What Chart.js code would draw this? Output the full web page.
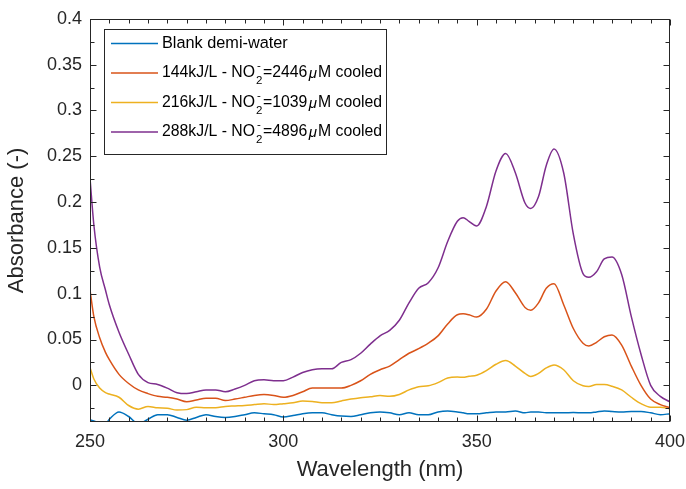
<!DOCTYPE html>
<html>
<head>
<meta charset="utf-8">
<script src="https://cdn.jsdelivr.net/npm/chart.js@4/dist/chart.umd.min.js"></script>
<style>
  body { margin: 0; background: #fff; }
  #wrap { width: 686px; height: 489px; }
</style>
</head>
<body>
<div id="wrap"><canvas id="absChart" width="686" height="489"></canvas></div>
<script>
// wavelength grid (nm) shared by all spectra
const wavelength = [250, 251, 252.5, 254, 255, 257.5, 260, 262.5, 265, 267.5, 270, 272.5, 275, 277.5, 280,
  282.5, 285, 287.5, 290, 292.5, 295, 297.5, 300, 302.5, 305, 307.5, 310, 312.5, 315, 317.5, 320,
  322.5, 325, 327.5, 330, 332.5, 335, 337.5, 340, 342.5, 345, 346.5, 348, 350, 352.5, 355, 357.5,
  360, 362.5, 364, 366, 368, 370, 372.5, 375, 377.5, 379, 381, 383, 385, 387.5, 390, 392.5, 395, 397.5, 400];

const blank = [-0.0375, -0.039, -0.041, -0.042, -0.037, -0.029, -0.034, -0.042, -0.037, -0.032, -0.032, -0.035, -0.038, -0.035, -0.032,
  -0.034, -0.035, -0.034, -0.032, -0.030, -0.031, -0.032, -0.0345, -0.033, -0.031, -0.030, -0.030, -0.032, -0.0335, -0.034, -0.032,
  -0.030, -0.029, -0.030, -0.032, -0.030, -0.032, -0.032, -0.029, -0.028, -0.029, -0.030, -0.031, -0.031, -0.030, -0.029, -0.029,
  -0.028, -0.030, -0.029, -0.029, -0.030, -0.030, -0.030, -0.0296, -0.030, -0.030, -0.029, -0.028, -0.0285, -0.029, -0.0285, -0.0285, -0.030, -0.032, -0.031];

const kj144 = [0.104, 0.075, 0.052, 0.036, 0.028, 0.012, 0.002, -0.005, -0.009, -0.012, -0.013, -0.015, -0.018, -0.016, -0.014,
  -0.014, -0.0166, -0.015, -0.013, -0.011, -0.010, -0.011, -0.013, -0.011, -0.007, -0.003, -0.003, -0.003, -0.003, 0.000, 0.005,
  0.012, 0.017, 0.021, 0.028, 0.035, 0.040, 0.046, 0.054, 0.067, 0.077, 0.078, 0.077, 0.0745, 0.083, 0.103, 0.113,
  0.101, 0.085, 0.082, 0.090, 0.106, 0.111, 0.088, 0.062, 0.046, 0.043, 0.047, 0.053, 0.055, 0.044, 0.021, 0.000, -0.015, -0.021, -0.0245];

const kj216 = [0.0195, 0.007, -0.003, -0.008, -0.0095, -0.013, -0.022, -0.026, -0.023, -0.0245, -0.025, -0.027, -0.0265, -0.024, -0.0245,
  -0.0245, -0.023, -0.0225, -0.022, -0.021, -0.020, -0.021, -0.020, -0.019, -0.017, -0.0175, -0.019, -0.019, -0.017, -0.015, -0.0135,
  -0.0125, -0.011, -0.012, -0.010, -0.005, -0.0015, -0.0005, 0.003, 0.008, 0.009, 0.0088, 0.010, 0.011, 0.016, 0.023, 0.027,
  0.021, 0.013, 0.0097, 0.013, 0.019, 0.0222, 0.017, 0.005, -0.0005, -0.0012, 0.0008, 0.0008, -0.001, -0.005, -0.013, -0.020, -0.0238, -0.0238, -0.0256];

const kj288 = [0.226, 0.175, 0.129, 0.104, 0.088, 0.058, 0.034, 0.012, 0.003, 0.001, -0.003, -0.008, -0.009, -0.007, -0.005,
  -0.005, -0.007, -0.004, 0.000, 0.005, 0.006, 0.005, 0.005, 0.009, 0.014, 0.017, 0.018, 0.018, 0.025, 0.028, 0.035,
  0.045, 0.054, 0.060, 0.071, 0.090, 0.106, 0.112, 0.128, 0.157, 0.179, 0.183, 0.179, 0.174, 0.195, 0.234, 0.253,
  0.232, 0.199, 0.193, 0.206, 0.240, 0.258, 0.232, 0.165, 0.122, 0.118, 0.124, 0.138, 0.140, 0.121, 0.075, 0.034, 0.000, -0.012, -0.018];

const energies = ['144kJ/L', '216kJ/L', '288kJ/L'];
const nitrite = [2446, 1039, 4896];
const blankName = 'Blank demi-water';
const colors = ['#0072BD', '#D95319', '#EDB120', '#7E2F8E'];

const xTicks = [250, 300, 350, 400];
const yTicks = [0, 0.05, 0.1, 0.15, 0.2, 0.25, 0.3, 0.35, 0.4];

const FONT = "'Liberation Sans', Arial, sans-serif";
const INK = '#262626';

function pts(arr) {
  return wavelength.map((w, i) => ({ x: w, y: arr[i] }));
}

const seriesData = [blank, kj144, kj216, kj288];
const seriesLabels = [blankName].concat(energies.map((e, i) => `${e} - NO\u2082\u207B=${nitrite[i]}\u00B5M cooled`));

// MATLAB style box with inward ticks + legend with sub/superscripts
const matlabAxes = {
  id: 'matlabAxes',
  afterDraw(chart) {
    const { ctx, chartArea: a, scales: { x, y } } = chart;
    ctx.save();
    ctx.strokeStyle = INK;
    ctx.lineWidth = 1;
    const L = Math.round(a.left) + 0.5, R = Math.round(a.right) - 0.5;
    const T = Math.round(a.top) + 0.5, B = Math.round(a.bottom) - 0.5;
    ctx.beginPath();
    for (let k = 0; k <= 30; k++) {
      const v = 250 + k * 5;
      const px = Math.round(x.getPixelForValue(v)) + 0.5;
      const len = k % 10 === 0 ? 6 : 4;
      ctx.moveTo(px, B); ctx.lineTo(px, B - len);
      ctx.moveTo(px, T); ctx.lineTo(px, T + len);
    }
    for (let k = -1; k <= 16; k++) {
      const v = k * 0.025;
      const py = Math.round(y.getPixelForValue(v)) + 0.5;
      const len = k % 2 === 0 ? 6 : 4;
      ctx.moveTo(L, py); ctx.lineTo(L + len, py);
      ctx.moveTo(R, py); ctx.lineTo(R - len, py);
    }
    ctx.stroke();
    ctx.strokeRect(L, T, R - L, B - T);

    // legend
    const bx = 104.5, by = 29.5, bw = 282, bh = 125;
    ctx.fillStyle = '#fff';
    ctx.fillRect(bx, by, bw, bh);
    ctx.strokeRect(bx, by, bw, bh);
    ctx.textBaseline = 'middle';
    ctx.textAlign = 'left';
    const big = `15.8px ${FONT}`, small = `11.5px ${FONT}`;
    for (let i = 0; i < 4; i++) {
      const ry = 43.5 + i * 29.5;
      ctx.strokeStyle = colors[i];
      ctx.lineWidth = 1.5;
      ctx.beginPath(); ctx.moveTo(111, ry); ctx.lineTo(158, ry); ctx.stroke();
      ctx.fillStyle = '#000';
      ctx.font = i === 0 ? `16.3px ${FONT}` : big;
      let tx = 162;
      if (i === 0) { ctx.fillText(blankName, tx, ry); continue; }
      const p1 = `${energies[i - 1]} - NO`;
      ctx.fillText(p1, tx, ry);
      tx += ctx.measureText(p1).width + 1;
      ctx.font = small;
      ctx.fillText('-', tx + 1, ry - 7);
      ctx.fillText('2', tx, ry + 8);
      tx += ctx.measureText('2').width + 0.5;
      ctx.font = big;
      const p2 = `=${nitrite[i - 1]}`;
      ctx.fillText(p2, tx, ry);
      tx += ctx.measureText(p2).width + 1.5;
      ctx.font = `italic 15px ${FONT}`;
      ctx.fillText('\u03BC', tx, ry + 1);
      tx += ctx.measureText('\u03BC').width + 1;
      ctx.font = big;
      ctx.fillText('M cooled', tx, ry);
    }
    ctx.restore();
  }
};

let ctx = document.getElementById('absChart').getContext('2d');

let absChart = new Chart(ctx, {
  type: 'line',
  data: {
    datasets: seriesData.map((arr, i) => ({
      label: seriesLabels[i],
      data: pts(arr),
      borderColor: colors[i],
      backgroundColor: colors[i],
      borderWidth: 1.5,
      pointRadius: 0,
      cubicInterpolationMode: 'monotone',
      fill: false
    }))
  },
  options: {
    responsive: false,
    animation: false,
    layout: { padding: { top: 14, right: 0, left: 0, bottom: 0 } },
    plugins: { legend: { display: false }, tooltip: { enabled: false } },
    scales: {
      x: {
        type: 'linear',
        min: 250,
        max: 400,
        afterBuildTicks: s => { s.ticks = xTicks.map(v => ({ value: v })); },
        afterFit: s => { s.height = 67; s.paddingRight = 16; s.paddingLeft = 0; },
        grid: { display: false, drawTicks: false },
        border: { display: false },
        ticks: { color: INK, font: { family: FONT, size: 18 }, padding: 9, maxRotation: 0 },
        title: { display: true, text: 'Wavelength (nm)', color: INK, font: { family: FONT, size: 22 }, padding: { top: 0, bottom: 6 } }
      },
      y: {
        min: -0.04,
        max: 0.4,
        afterBuildTicks: s => { s.ticks = yTicks.map(v => ({ value: v })); },
        afterFit: s => { s.width = 90; },
        grid: { display: false, drawTicks: false },
        border: { display: false },
        ticks: { color: INK, font: { family: FONT, size: 18 }, padding: 8, callback: v => String(+v.toFixed(2)) },
        title: { display: true, text: 'Absorbance (-)', color: INK, font: { family: FONT, size: 22 }, padding: { top: 4, bottom: 0 } }
      }
    }
  },
  plugins: [matlabAxes]
});
</script>
</body>
</html>
